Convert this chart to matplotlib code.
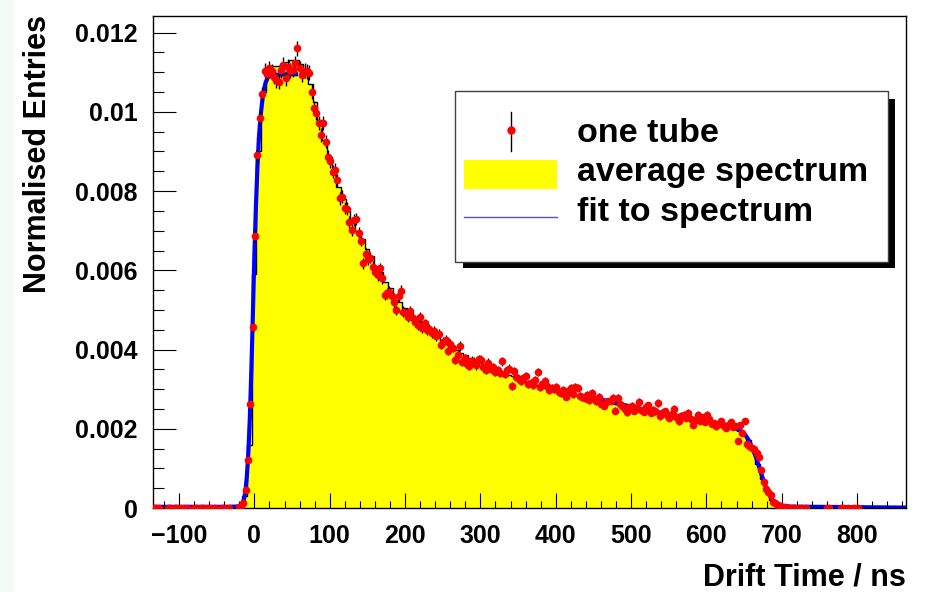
"""
Drift time spectrum of one tube compared to the average spectrum and its fit
"""
import numpy as np
import matplotlib
matplotlib.use("Agg")
import matplotlib.pyplot as plt
from matplotlib.patches import Rectangle
from matplotlib.lines import Line2D
from matplotlib.ticker import FixedLocator, FixedFormatter, MultipleLocator

plt.rcParams['font.family'] = ['Liberation Sans', 'DejaVu Sans']
plt.rcParams['font.weight'] = 'bold'

# all contents below are in units of 1e-3 (normalised entries)
SCALE = 1e-3

# average spectrum, 6.25 ns bins starting at -22.5 ns
avg_start = -22.5
avg_width = 6.25
avg_spectrum = [
    0.05, 0.30, 1.60, 5.90, 9.00, 10.50, 11.00, 11.15, 11.15, 11.20,
    11.25, 11.30, 11.30, 11.20, 11.05, 10.70, 10.25, 9.80, 9.30, 8.85,
    8.45, 8.10, 7.80, 7.50, 7.25, 7.00, 6.80, 6.55, 6.35, 6.10,
    5.95, 5.70, 5.55, 5.35, 5.20, 5.05, 4.95, 4.82, 4.72, 4.60,
    4.50, 4.42, 4.32, 4.22, 4.15, 4.07, 3.98, 3.92, 3.85, 3.78,
    3.72, 3.66, 3.60, 3.55, 3.50, 3.45, 3.40, 3.36, 3.32, 3.27,
    3.23, 3.19, 3.15, 3.11, 3.08, 3.04, 3.01, 2.98, 2.95, 2.92,
    2.89, 2.86, 2.84, 2.81, 2.78, 2.76, 2.73, 2.71, 2.68, 2.66,
    2.63, 2.61, 2.58, 2.56, 2.53, 2.51, 2.48, 2.46, 2.43, 2.41,
    2.38, 2.36, 2.33, 2.31, 2.28, 2.26, 2.23, 2.21, 2.19, 2.16,
    2.14, 2.11, 2.09, 2.06, 2.03, 2.00, 1.95, 1.87, 1.72, 1.48,
    1.12, 0.72, 0.40, 0.19, 0.08, 0.03, 0.01, 0.00,
]

# one tube, 3.125 ns bins starting at -135 ns (nan = no marker drawn)
nan = np.nan
tube_start = -135.0
tube_width = 3.125
tube_left = [
    0, 0, 0, nan, nan, nan, 0, 0, nan, 0,
    0, 0, nan, 0, 0, nan, nan, 0, 0, nan,
    0, 0, nan, 0, 0, nan, 0, nan, nan, 0,
    0, nan, 0, nan, nan, nan,
]
tube_signal = [
    0.03, 0.05, 0.12, 0.45, 1.21, 2.62, 4.56, 6.87, 8.90, 9.84,
    10.45, 11.04, 10.96, 11.10, 11.02, 10.88, 10.80, 10.76, 11.05, 11.19,
    10.85, 11.14, 11.04, 11.06, 11.23, 11.60, 11.10, 10.93, 11.04, 11.02,
    10.99, 10.51, 10.09, 9.98, 9.73, 9.42, 9.71, 9.25, 8.87, 8.75,
    8.49, 8.54, 8.27, 7.82, 7.86, 7.58, 7.56, 7.21, 7.02, 7.27,
    7.30, 6.95, 6.75, 6.18, 6.41, 6.28, 6.32, 6.09, 5.97, 5.88,
    6.05, 5.80, 5.38, 5.42, 5.46, 5.34, 5.19, 5.00, 5.34, 5.49,
    4.96, 4.92, 4.83, 4.98, 4.79, 4.70, 4.62, 4.83, 4.55, 4.66,
    4.50, 4.52, 4.41, 4.48, 4.33, 4.40, 4.12, 4.20, 4.25, 3.97,
    4.14, 4.05, 3.74, 3.86, 4.09, 3.69, 3.78, 3.64, 3.59, 3.72,
    3.69, 3.60, 3.75, 3.74, 3.55, 3.48, 3.67, 3.52, 3.55, 3.44,
    3.48, 3.40, 3.70, 3.38, 3.48, 3.52, 3.09, 3.46, 3.30, 3.25,
    3.21, 3.28, 3.33, 3.12, 3.16, 3.10, 3.24, 3.44, 3.06, 3.14,
    3.21, 3.08, 2.98, 3.02, 3.00, 3.05, 2.92, 2.90, 2.98, 2.81,
    2.95, 3.02, 2.88, 3.05, 3.02, 2.83, 2.80, 2.77, 2.85, 2.73,
    2.90, 2.75, 2.69, 2.80, 2.63, 2.58, 2.68, 2.69, 2.71, 2.78,
    2.46, 2.78, 2.62, 2.57, 2.50, 2.42, 2.54, 2.58, 2.46, 2.52,
    2.68, 2.47, 2.43, 2.55, 2.59, 2.40, 2.48, 2.44, 2.65, 2.31,
    2.40, 2.44, 2.36, 2.27, 2.38, 2.51, 2.30, 2.19, 2.33, 2.36,
    2.28, 2.40, 2.25, 2.10, 2.22, 2.36, 2.20, 2.29, 2.18, 2.36,
    2.24, 2.12, 2.15, 2.06, 2.13, 2.19, 2.08, 2.02, 2.10, 2.17,
    2.04, 2.06, 1.70, 2.10, 1.89, 2.20, 1.62, 1.57, 1.52, 1.48,
    1.38, 1.28, 0.96, 0.66, 0.49, 0.40, 0.33, 0.16, 0.12, 0.08,
    0.04, 0.03, 0.02,
]
tube_right = [
    0, 0, 0, 0, 0, nan, 0, nan, 0, nan,
    nan, nan, nan, nan, nan, nan, nan, 0, 0, nan,
    nan, nan, nan, 0, 0, nan, 0, nan, 0, 0,
    0,
]

# fit to the average spectrum: leading edge (t0) and trailing edge (tmax)
fit_t0_time = [-135, -40, -25, -20, -16, -14, -12, -10, -8, -6, -4, -2, 0,
               2, 4, 6, 8, 10, 12, 15, 18, 22, 30, 58]
fit_t0_value = [0.03, 0.03, 0.035, 0.05, 0.12, 0.2, 0.4, 0.8, 1.4, 2.3, 3.5,
                4.9, 6.4, 7.6, 8.6, 9.35, 9.85, 10.2, 10.5, 10.75, 10.87,
                10.92, 10.94, 10.95]
fit_tmax_time = [455, 500, 525, 550, 590, 620, 635, 645, 651, 656, 661, 666,
                 671, 676, 681, 686, 692, 700, 712, 865]
fit_tmax_value = [2.76, 2.56, 2.45, 2.37, 2.22, 2.10, 2.03, 1.96, 1.86, 1.72,
                  1.52, 1.27, 0.98, 0.68, 0.43, 0.25, 0.12, 0.06, 0.035, 0.01]

x_limits = (-135, 865)
y_limits = (0, 0.01242)
xtick_values = [-100, 0, 100, 200, 300, 400, 500, 600, 700, 800]
xtick_labels = ["\u2212100", "0", "100", "200", "300", "400", "500", "600",
                "700", "800"]
ytick_values = [0, 0.002, 0.004, 0.006, 0.008, 0.010, 0.012]
ytick_labels = ["0", "0.002", "0.004", "0.006", "0.008", "0.01", "0.012"]
legend_labels = ["one tube", "average spectrum", "fit to spectrum"]

W, H = 934, 592
fig = plt.figure(figsize=(W / 100, H / 100), dpi=100)
fig.add_artist(Rectangle((0, 0), 13 / W, 1, transform=fig.transFigure,
                         color="#f4fbf4", zorder=0))
ax = fig.add_axes([152.7 / W, 1 - 508 / H, (906 - 152.7) / W, (508 - 16) / H])

# average spectrum as a filled histogram
avg = np.array(avg_spectrum) * SCALE
edges = avg_start + avg_width * np.arange(len(avg) + 1)
ax.stairs(avg, edges, fill=True, color="#ffff00", zorder=1)
ax.stairs(avg, edges, color="black", lw=1.0, zorder=1.5)

# fit curves
ax.plot(fit_t0_time, np.array(fit_t0_value) * SCALE, color="#0000ff", lw=3,
        zorder=2, solid_capstyle="butt")
ax.plot(fit_tmax_time, np.array(fit_tmax_value) * SCALE, color="#0000ff",
        lw=3, zorder=2, solid_capstyle="butt")

# one tube with statistical (Poisson) error bars
tube = np.array(tube_left + tube_signal + tube_right, dtype=float)
centers = tube_start + tube_width * (np.arange(len(tube)) + 0.5)
errors = 0.057 * np.sqrt(tube)
ax.errorbar(centers, tube * SCALE, yerr=errors * SCALE, fmt="o",
            color="#ff0000", ms=5.5, mew=0, ecolor="black", elinewidth=1.0,
            capsize=0, zorder=3)

ax.set_xlim(*x_limits)
ax.set_ylim(*y_limits)
ax.xaxis.set_major_locator(FixedLocator(xtick_values))
ax.xaxis.set_major_formatter(FixedFormatter(xtick_labels))
ax.xaxis.set_minor_locator(MultipleLocator(20))
ax.yaxis.set_major_locator(FixedLocator(ytick_values))
ax.yaxis.set_major_formatter(FixedFormatter(ytick_labels))
ax.yaxis.set_minor_locator(MultipleLocator(0.0005))
ax.tick_params(axis="both", which="both", direction="in", width=0.8,
               labelsize=18, top=False, right=False)
ax.tick_params(axis="x", which="major", length=10.8, pad=11.5)
ax.tick_params(axis="x", which="minor", length=5.4)
ax.tick_params(axis="y", which="major", length=16.5, pad=11)
ax.tick_params(axis="y", which="minor", length=8)
for spine in ax.spines.values():
    spine.set_linewidth(1.0)
    spine.set_color("black")
ax.set_axisbelow(False)

fig.text(38 / W, 1 - 15 / H, "Normalised Entries", rotation=90, ha="center",
         va="top", fontsize=22, fontweight="bold")
fig.text(906 / W, 1 - 586 / H, "Drift Time / ns", ha="right", va="baseline",
         fontsize=22, fontweight="bold")

# legend box with drop shadow, laid out in pixel coordinates
lax = fig.add_axes([0, 0, 1, 1], zorder=5)
lax.set_xlim(0, W)
lax.set_ylim(H, 0)
lax.axis("off")
lax.add_patch(Rectangle((463, 99), 432, 169, facecolor="black", lw=0))
lax.add_patch(Rectangle((455, 90.7), 433, 171.3, facecolor="white",
                        edgecolor="#404040", lw=1.0))
lax.add_line(Line2D([510.7, 510.7], [112, 151], color="black", lw=1.0))
lax.add_line(Line2D([510.7], [130], marker="o", color="#ff0000", ms=6, mew=0))
lax.add_patch(Rectangle((464, 160), 93, 29, facecolor="#ffff00", lw=0))
lax.add_line(Line2D([464, 557], [216.7, 216.7], color="#4d4dff", lw=1.0))
for label, base in zip(legend_labels, [142, 181.5, 221]):
    lax.text(577, base, label, ha="left", va="baseline", fontsize=24.5,
             fontweight="bold")

fig.savefig("out.png", dpi=100)
